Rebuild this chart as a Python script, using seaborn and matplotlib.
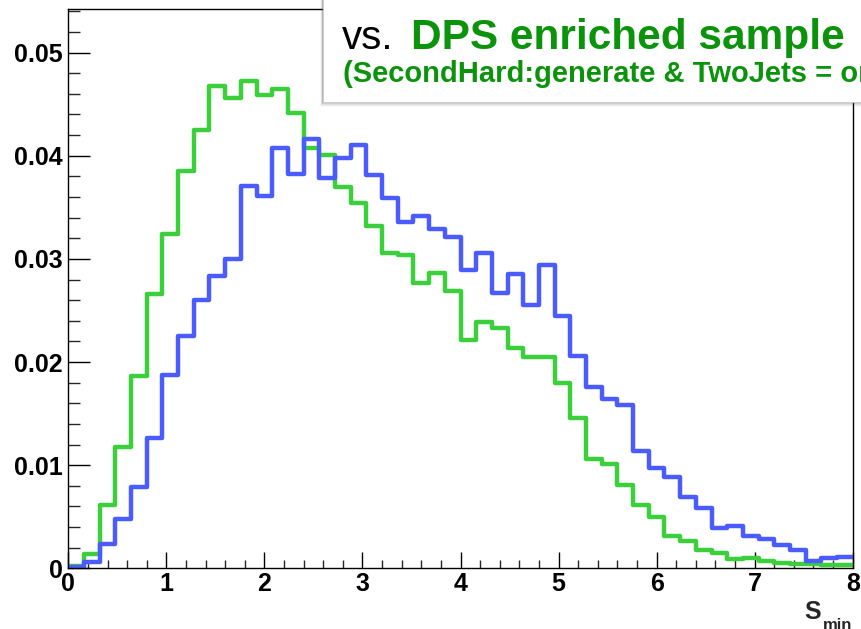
import numpy as np
import pandas as pd
import seaborn as sns
import matplotlib
matplotlib.use("Agg")
import matplotlib.pyplot as plt
from matplotlib.patches import Rectangle
from matplotlib.ticker import MultipleLocator, FixedLocator, FixedFormatter

# Binning of the S_min histograms
x_min, x_max, n_bins = 0.0, 8.0, 50

# Normalised bin contents (50 bins, 0 -> 8)
default_sample = [
    0.0001, 0.0006, 0.0024, 0.0048, 0.0079, 0.0126, 0.0187, 0.0225, 0.0260, 0.0283,
    0.0300, 0.0371, 0.0361, 0.0408, 0.0382, 0.0416, 0.0378, 0.0398, 0.0410, 0.0381,
    0.0359, 0.0336, 0.0342, 0.0329, 0.0321, 0.0289, 0.0306, 0.0267, 0.0285, 0.0255,
    0.0294, 0.0245, 0.0206, 0.0176, 0.0164, 0.0158, 0.0114, 0.0097, 0.0089, 0.0069,
    0.0058, 0.0039, 0.0041, 0.0031, 0.0028, 0.0023, 0.0018, 0.0007, 0.0010, 0.0011,
]
dps_enriched = [
    0.0002, 0.0014, 0.0061, 0.0118, 0.0186, 0.0266, 0.0324, 0.0385, 0.0425, 0.0468,
    0.0456, 0.0472, 0.0459, 0.0465, 0.0441, 0.0408, 0.0401, 0.0370, 0.0354, 0.0332,
    0.0306, 0.0304, 0.0277, 0.0286, 0.0269, 0.0221, 0.0239, 0.0233, 0.0214, 0.0205,
    0.0205, 0.0180, 0.0146, 0.0106, 0.0101, 0.0081, 0.0061, 0.0050, 0.0031, 0.0026,
    0.0018, 0.0015, 0.0009, 0.0010, 0.0007, 0.0005, 0.0004, 0.0004, 0.0003, 0.0003,
]

x_ticks = [0, 1, 2, 3, 4, 5, 6, 7, 8]
x_tick_labels = ["0", "1", "2", "3", "4", "5", "6", "7", "8"]
y_ticks = [0.0, 0.01, 0.02, 0.03, 0.04, 0.05]
y_tick_labels = ["0", "0.01", "0.02", "0.03", "0.04", "0.05"]

sample_names = ["default", "DPS enriched"]
palette = {"default": "#4a5bff", "DPS enriched": "#3ccf3c"}

edges = np.linspace(x_min, x_max, n_bins + 1)
centers = 0.5 * (edges[:-1] + edges[1:])
df = pd.DataFrame({
    "s_min": np.concatenate([centers, centers]),
    "weight": np.concatenate([default_sample, dps_enriched]),
    "sample": np.repeat(sample_names, n_bins),
})

sns.set_style("ticks")
plt.rcParams["font.family"] = ["Liberation Sans", "DejaVu Sans"]

W, H = 861, 629
fig = plt.figure(figsize=(W / 100, H / 100), dpi=100)
fx = lambda px: px / W
fy = lambda py: 1 - py / H

ax = fig.add_axes([fx(68.3), fy(568.3), fx(852.7) - fx(68.3), fy(9.3) - fy(568.3)])

sns.histplot(
    data=df, x="s_min", weights="weight", hue="sample", hue_order=sample_names,
    bins=n_bins, binrange=(x_min, x_max), element="step", fill=False,
    palette=palette, linewidth=3.2, legend=False, ax=ax,
)

ax.set_xlim(x_min, x_max)
ax.set_ylim(0, 0.0542)
ax.set_xlabel("")
ax.set_ylabel("")

ax.xaxis.set_major_locator(FixedLocator(x_ticks))
ax.xaxis.set_major_formatter(FixedFormatter(x_tick_labels))
ax.xaxis.set_minor_locator(MultipleLocator(0.2))
ax.yaxis.set_major_locator(FixedLocator(y_ticks))
ax.yaxis.set_major_formatter(FixedFormatter(y_tick_labels))
ax.yaxis.set_minor_locator(MultipleLocator(0.002))

ax.tick_params(axis="x", which="major", direction="in", length=11.5, width=1.0,
               labelsize=18, pad=3, colors="black")
ax.tick_params(axis="x", which="minor", direction="in", length=5.8, width=1.0)
ax.tick_params(axis="y", which="major", direction="in", length=15.8, width=1.0,
               labelsize=18, pad=4, colors="black")
ax.tick_params(axis="y", which="minor", direction="in", length=8.6, width=1.0)
for lab in ax.get_xticklabels() + ax.get_yticklabels():
    lab.set_fontweight("bold")

for side in ["left", "right", "top", "bottom"]:
    ax.spines[side].set_visible(True)
    ax.spines[side].set_color("black")
    ax.spines[side].set_linewidth(1.0)

# Axis title S_min
fig.text(fx(821), fy(619), "S", fontsize=18, fontweight="bold", ha="right", va="baseline")
fig.text(fx(823), fy(630), "min", fontsize=12, fontweight="bold", ha="left", va="baseline")

# Caption box with soft shadow
box_x, box_y = fx(322.7), fy(101.7)
for i, a in zip(range(5, 0, -1), [0.04, 0.06, 0.09, 0.13, 0.2]):
    fig.add_artist(Rectangle((box_x - i * 0.5 / W, box_y - i / H), 1, 1,
                             transform=fig.transFigure, facecolor="#555555",
                             edgecolor="none", alpha=a, zorder=5))
fig.add_artist(Rectangle((box_x, box_y), 1, 1, transform=fig.transFigure,
                         facecolor="white", edgecolor="#cccccc", linewidth=0.6, zorder=6))

fig.text(fx(342), fy(49), "vs.", fontsize=29, color="black", ha="left",
         va="baseline", zorder=7)
fig.text(fx(411), fy(49), "DPS enriched sample", fontsize=30.5, fontweight="bold",
         color="#0b930b", ha="left", va="baseline", zorder=7)
fig.text(fx(343), fy(82), "(SecondHard:generate & TwoJets = on)", fontsize=21,
         fontweight="bold", color="#0b930b", ha="left", va="baseline", zorder=7)

fig.savefig("out.png", dpi=100, facecolor="white")
